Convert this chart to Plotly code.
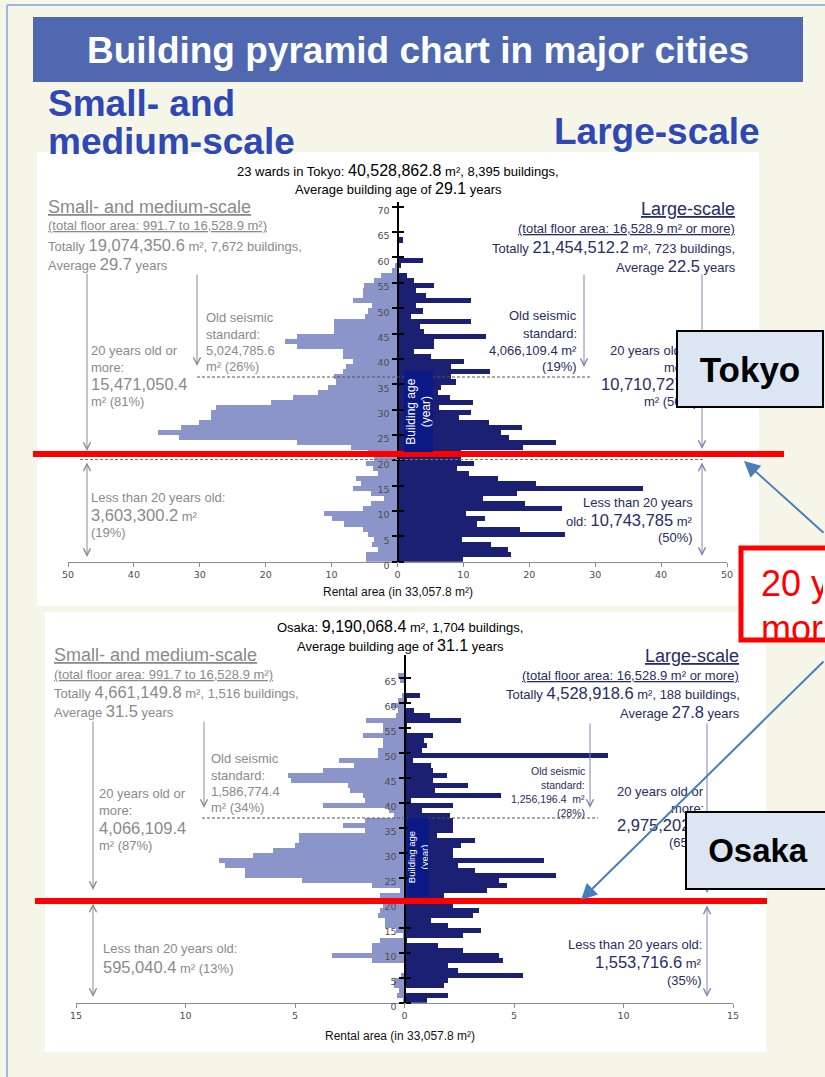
import plotly.graph_objects as go

W, H = 825, 1077

# Rental area by building age, in units of 33,057.8 m2 (list index = building age in years)
tokyo_small = [4.8, 4.8, 3.0, 3.8, 3.5, 4.5, 5.3, 8.1, 9.9, 11.2,
               5.3, 4.0, 2.0, 4.0, 6.8, 5.6, 6.3, 3.0, 3.7, 4.8,
               3.5, 4.5, 7.1, 15.2, 33.1, 36.4, 32.9, 30.1, 28.3, 28.3,
               27.6, 19.2, 15.9, 12.1, 10.6, 9.3, 9.6, 8.3, 7.8, 6.8,
               8.3, 8.3, 15.2, 17.0, 15.2, 9.6, 9.6, 9.6, 5.0, 4.5,
               3.8, 6.8, 5.3, 5.3, 5.1, 3.6, 2.5, 0.9, 0.4, 0.0,
               0.0, 0.0, 0.0, 0.0]
tokyo_large = [10.0, 17.2, 16.8, 14.2, 9.8, 25.4, 18.6, 12.0, 13.3, 10.4,
               25.0, 19.3, 12.9, 18.1, 37.3, 21.0, 15.2, 10.9, 9.1, 11.6,
               9.6, 9.6, 19.1, 24.0, 16.9, 15.7, 18.9, 13.9, 9.4, 11.1,
               6.3, 11.4, 8.0, 6.1, 6.6, 8.9, 8.1, 14.0, 8.1, 10.1,
               5.1, 2.5, 5.6, 5.6, 13.5, 4.0, 3.4, 11.1, 2.0, 3.9,
               2.8, 11.1, 4.3, 2.8, 5.5, 2.5, 1.5, 0.3, 0.5, 3.9,
               0.0, 0.0, 0.0, 0.9]
osaka_small = [0.05, 0.35, 0.25, 0.5, 0.5, 0.15, 0.0, 0.0, 1.5, 3.3,
               1.5, 1.5, 1.1, 0.05, 0.4, 0.9, 0.9, 1.2, 1.1, 1.0,
               1.0, 1.1, 0.2, 1.5, 4.7, 7.3, 7.3, 8.2, 8.45, 6.9,
               6.0, 5.0, 4.8, 4.8, 1.8, 2.8, 1.8, 0.5, 0.7, 3.7,
               1.8, 1.9, 2.5, 2.6, 5.2, 5.3, 3.7, 2.3, 3.0, 1.2,
               1.2, 1.0, 1.0, 1.9, 1.0, 1.0, 1.75, 0.4, 0.3, 0.6,
               0.3, 0.1, 0.0, 0.0, 0.2, 0.3]
osaka_large = [1.05, 2.0, 0.05, 1.8, 2.0, 5.4, 2.45, 2.0, 4.5, 4.3,
               2.65, 1.55, 0.1, 2.65, 3.5, 2.0, 1.2, 3.15, 3.4, 2.2,
               2.2, 1.8, 3.75, 4.7, 4.3, 6.9, 3.2, 2.45, 6.35, 2.2,
               2.2, 2.6, 3.2, 1.5, 2.2, 2.2, 2.2, 2.1, 0.8, 2.2,
               0.3, 4.4, 1.4, 2.9, 1.3, 1.95, 1.3, 1.2, 0.4, 9.3,
               0.8, 1.05, 0.9, 1.3, 0.1, 0.1, 2.6, 1.15, 0.45, 0.0,
               0.1, 0.7]

tokyo_xticks = [-50, -40, -30, -20, -10, 0, 10, 20, 30, 40, 50]
tokyo_xlabels = ["50", "40", "30", "20", "10", "0", "10", "20", "30", "40", "50"]
osaka_xticks = [-15, -10, -5, 0, 5, 10, 15]
osaka_xlabels = ["15", "10", "5", "0", "5", "10", "15"]
tokyo_yticks = list(range(0, 71, 5))
osaka_yticks = list(range(0, 66, 5))

LIGHT = "#8c95c9"
DARK = "#1c2072"
GRAY = "#8a8a8a"
NAVY = "#272c63"
HEAD_BLUE = "#2e48b4"
ARROW_GRAY = "#8c8c8c"
ARROW_LAV = "#8383b3"
SANS = "Liberation Sans, Arial, sans-serif"
TICKFONT = dict(family="DejaVu Sans, Verdana, sans-serif", size=9.5, color="#4d4d4d")


def mids(vals):
    return [a + 0.5 for a in range(len(vals))]


fig = go.Figure()
bar_style = dict(orientation="h", width=1, showlegend=False, hoverinfo="skip")
fig.add_trace(go.Bar(x=[-v for v in tokyo_small], y=mids(tokyo_small), xaxis="x", yaxis="y",
                     marker=dict(color=LIGHT, line=dict(width=0)), **bar_style))
fig.add_trace(go.Bar(x=tokyo_large, y=mids(tokyo_large), xaxis="x", yaxis="y2",
                     marker=dict(color=DARK, line=dict(width=0)), **bar_style))
fig.add_trace(go.Bar(x=[-v for v in osaka_small], y=mids(osaka_small), xaxis="x2", yaxis="y3",
                     marker=dict(color=LIGHT, line=dict(width=0)), **bar_style))
fig.add_trace(go.Bar(x=osaka_large, y=mids(osaka_large), xaxis="x2", yaxis="y4",
                     marker=dict(color=DARK, line=dict(width=0)), **bar_style))


def xax(x0, x1, rng, tv, tt, anchor):
    return dict(domain=[x0 / W, x1 / W], range=rng, anchor=anchor, tickvals=tv, ticktext=tt,
                showline=True, linecolor="#8c8c8c", linewidth=1.2, ticks="outside", ticklen=4,
                tickcolor="#8c8c8c", tickwidth=1.2, showgrid=False, zeroline=False,
                tickfont=TICKFONT, fixedrange=True, automargin=False)


def yax(ytop, ybot, rng, tv, xpos, side, overlay=None):
    d = dict(range=rng, anchor="free", position=xpos / W, side=side, tickvals=tv,
             ticks="outside", ticklen=5, tickwidth=1.5, tickcolor="black",
             showgrid=False, zeroline=False, tickfont=TICKFONT, fixedrange=True,
             automargin=False)
    if overlay:
        d.update(overlaying=overlay, showticklabels=False, showline=False)
    else:
        d.update(domain=[1 - ybot / H, 1 - ytop / H], showline=True, linecolor="black",
                 linewidth=2, ticklabelshift=4)
    return d


shapes = []
notes = []


def rect(x0, y0, x1, y1, fill, line_color=None, line_width=0, layer="below"):
    shapes.append(dict(type="rect", xref="paper", yref="paper", x0=x0 / W, x1=x1 / W,
                       y0=1 - y1 / H, y1=1 - y0 / H, fillcolor=fill,
                       line=dict(color=line_color or fill, width=line_width), layer=layer))


def seg(x0, y0, x1, y1, color, width=1, dash="solid", layer="above"):
    shapes.append(dict(type="line", xref="paper", yref="paper", x0=x0 / W, x1=x1 / W,
                       y0=1 - y0 / H, y1=1 - y1 / H,
                       line=dict(color=color, width=width, dash=dash), layer=layer))


def text(x, y, s, size=13, color=GRAY, anchor="left", **extra):
    d = dict(xref="paper", yref="paper", x=x / W, y=1 - y / H, text=s, showarrow=False,
             xanchor=anchor, yanchor="middle", font=dict(size=size, color=color, family=SANS))
    d.update(extra)
    notes.append(d)


def arrow(x0, y0, x1, y1, color, width=1, head=5, size=1.4, both=False):
    d = dict(xref="paper", yref="paper", x=x1 / W, y=1 - y1 / H, ax=x0 - x1, ay=y0 - y1,
             axref="pixel", ayref="pixel", text="", showarrow=True, arrowhead=head,
             arrowsize=size, arrowwidth=width, arrowcolor=color, standoff=0, startstandoff=0)
    if both:
        d.update(arrowside="end+start", startarrowhead=head, startarrowsize=size)
    notes.append(d)


def num(s, size=16.5):
    return f"<span style='font-size:{size}px'>{s}</span>"


# page frame, banner and chart panels
seg(7, 5, 7, H, "#9fb6e2", 2, layer="below")
seg(7, 5, W, 5, "#9fb6e2", 2, layer="below")
rect(33, 17, 803, 82, "#4f68b0")
rect(37, 152, 759, 606, "white")
rect(45, 612, 766, 1052, "white")

# reference lines
seg(197, 377, 590, 377, "#555555", 1, "3px,2px")
seg(80, 459.5, 705, 459.5, "#777777", 1, "3px,2px")
seg(202, 818, 598, 818, "#555555", 1, "3px,2px")
seg(98, 903.5, 705, 903.5, "#777777", 1, "3px,2px")
seg(33, 454, 784, 454, "#ff0000", 6)
seg(35, 901, 767, 901, "#ff0000", 6)
rect(741, 548, 830, 640, "white", "#ff0000", 5, layer="above")

# headings
text(418, 50, "<b>Building pyramid chart in major cities</b>", 37, "white", "center")
text(46, 104, "<b>Small- and</b>", 37, HEAD_BLUE)
text(46, 142, "<b>medium-scale</b>", 37, HEAD_BLUE)
text(552, 131, "<b>Large-scale</b>", 37, HEAD_BLUE)

# Tokyo
text(398, 170, f"23 wards in Tokyo: {num('40,528,862.8', 16)} m², 8,395 buildings,", 13, "black", "center")
text(398, 188, f"Average building age of {num('29.1', 16)} years", 13, "black", "center")
text(46, 207, "<u>Small- and medium-scale</u>", 18)
text(46, 226, "<u>(total floor area: 991.7 to 16,528.9 m²)</u>", 13)
text(46, 245, f"Totally {num('19,074,350.6')} m², 7,672 buildings,")
text(46, 264, f"Average {num('29.7')} years")
text(204, 317, "Old seismic")
text(204, 334, "standard:")
text(204, 350, "5,024,785.6")
text(204, 366, "m² (26%)")
text(89, 351, "20 years old or")
text(89, 367, "more:")
text(89, 384, num("15,471,050.4"))
text(89, 401, "m² (81%)")
text(89, 497, "Less than 20 years old:")
text(89, 515, f"{num('3,603,300.2')} m²")
text(89, 533, "(19%)")

text(737, 209, "<u>Large-scale</u>", 18, NAVY, "right")
text(737, 228, "<u>(total floor area: 16,528.9 m² or more)</u>", 13, NAVY, "right")
text(737, 247, f"Totally {num('21,454,512.2')} m², 723 buildings,", 13, NAVY, "right")
text(738, 266, f"Average {num('22.5')} years", 13, NAVY, "right")
text(579, 316, "Old seismic", 13, NAVY, "right")
text(579, 333, "standard:", 13, NAVY, "right")
text(579, 350, "4,066,109.4 m²", 13, NAVY, "right")
text(579, 366, "(19%)", 13, NAVY, "right")
text(699, 351, "20 years old or", 13, NAVY, "right")
text(699, 367, "more:", 13, NAVY, "right")
text(699, 384, num("10,710,727.2"), 13, NAVY, "right")
text(699, 401, "m² (50%)", 13, NAVY, "right")
text(695, 502, "Less than 20 years", 13, NAVY, "right")
text(695, 520, f"old: {num('10,743,785')} m²", 13, NAVY, "right")
text(695, 538, "(50%)", 13, NAVY, "right")
text(398, 592, "Rental area (in 33,057.8 m²)", 12, "#111111", "center")

# Osaka
text(400, 626, f"Osaka: {num('9,190,068.4', 16)} m², 1,704 buildings,", 13, "black", "center")
text(400, 645, f"Average building age of {num('31.1', 16)} years", 13, "black", "center")
text(52, 655, "<u>Small- and medium-scale</u>", 18)
text(52, 674, "<u>(total floor area: 991.7 to 16,528.9 m²)</u>", 13)
text(52, 692, f"Totally {num('4,661,149.8')} m², 1,516 buildings,")
text(52, 711, f"Average {num('31.5')} years")
text(209, 758, "Old seismic")
text(209, 775, "standard:")
text(209, 791, "1,586,774.4")
text(209, 807, "m² (34%)")
text(97, 793, "20 years old or")
text(97, 810, "more:")
text(97, 828, num("4,066,109.4"))
text(97, 845, "m² (87%)")
text(101, 948, "Less than 20 years old:")
text(101, 967, f"{num('595,040.4')} m² (13%)")

text(741, 656, "<u>Large-scale</u>", 18, NAVY, "right")
text(741, 675, "<u>(total floor area: 16,528.9 m² or more)</u>", 13, NAVY, "right")
text(742, 693, f"Totally {num('4,528,918.6')} m², 188 buildings,", 13, NAVY, "right")
text(742, 712, f"Average {num('27.8')} years", 13, NAVY, "right")
text(587, 771, "Old seismic", 10.5, NAVY, "right")
text(587, 785, "standard:", 10.5, NAVY, "right")
text(587, 799, "1,256,196.4  m²", 10.5, NAVY, "right")
text(587, 813, "(28%)", 10.5, NAVY, "right")
text(706, 791, "20 years old or", 13, NAVY, "right")
text(706, 808, "more:", 13, NAVY, "right")
text(706, 825, num("2,975,202.0"), 13, NAVY, "right")
text(706, 842, "(65%)", 13, NAVY, "right")
text(704, 944, "Less than 20 years old:", 13, NAVY, "right")
text(704, 962, f"{num('1,553,716.6')} m²", 13, NAVY, "right")
text(704, 980, "(35%)", 13, NAVY, "right")
text(400, 1036, "Rental area (in 33,057.8 m²)", 12, "#111111", "center")

# bracket arrows
arrow(87, 272, 87, 451, ARROW_GRAY)
arrow(87, 461, 87, 557, ARROW_GRAY, both=True)
arrow(197, 273, 197, 366, ARROW_GRAY)
arrow(702, 273, 702, 449, ARROW_LAV)
arrow(702, 461, 702, 556, ARROW_LAV, both=True)
arrow(584, 273, 584, 367, ARROW_LAV)
arrow(93, 720, 93, 890, ARROW_GRAY)
arrow(93, 902, 93, 997, ARROW_GRAY, both=True)
arrow(204, 720, 204, 808, ARROW_GRAY)
arrow(707, 722, 707, 893, ARROW_LAV)
arrow(707, 904, 707, 997, ARROW_LAV, both=True)
arrow(590, 722, 590, 808, ARROW_LAV)

# building age axis labels
notes.append(dict(xref="paper", yref="paper", x=418 / W, y=1 - 411.5 / H, text="Building age<br>(year)",
                  textangle=-90, showarrow=False, xanchor="center", yanchor="middle",
                  font=dict(size=12, color="white", family=SANS), bgcolor="#0b1987",
                  width=80, height=28, borderpad=0))
notes.append(dict(xref="paper", yref="paper", x=417.5 / W, y=1 - 857.5 / H, text="Building age<br>(year)",
                  textangle=-90, showarrow=False, xanchor="center", yanchor="middle",
                  font=dict(size=9.5, color="white", family=SANS), bgcolor="#0b1987",
                  width=78, height=20, borderpad=0))

# callout (the box runs off the right edge, so its text is clipped to the box)
text(760, 583, "20 years old or", 36, "#ff0000", width=62, height=44, align="left", borderpad=0)
text(760, 628, "more", 36, "#ff0000", width=62, height=44, align="left", borderpad=0)
arrow(826, 534, 744, 461, "#4a7ebb", width=2, head=2, size=1.6)
arrow(830, 660, 581, 900, "#4a7ebb", width=2, head=2, size=1.6)

# city tags
notes.append(dict(xref="paper", yref="paper", x=750 / W, y=1 - 368.5 / H, text="<b>Tokyo</b>",
                  showarrow=False, xanchor="center", yanchor="middle", width=144, height=74,
                  font=dict(size=35, color="black", family=SANS), bgcolor="#dce6f2",
                  bordercolor="black", borderwidth=2, borderpad=0))
notes.append(dict(xref="paper", yref="paper", x=758 / W, y=1 - 850 / H, text="<b>Osaka</b>",
                  showarrow=False, xanchor="center", yanchor="middle", width=142, height=75,
                  font=dict(size=33, color="black", family=SANS), bgcolor="#dce6f2",
                  bordercolor="black", borderwidth=2, borderpad=0))

fig.update_layout(
    width=W, height=H, autosize=False,
    margin=dict(l=0, r=0, t=0, b=0, pad=0, autoexpand=False),
    paper_bgcolor="#f6f6e8", plot_bgcolor="rgba(0,0,0,0)",
    barmode="overlay", bargap=0, showlegend=False,
    font=dict(family=SANS),
    xaxis=xax(68, 727, [-50, 50], tokyo_xticks, tokyo_xlabels, "y"),
    yaxis=yax(201.7, 561.7, [0, 71], tokyo_yticks, 397.5, "left"),
    yaxis2=yax(201.7, 561.7, [0, 71], tokyo_yticks, 397.5, "right", overlay="y"),
    xaxis2=xax(76, 733, [-15, 15], osaka_xticks, osaka_xlabels, "y3"),
    yaxis3=yax(655.2, 1002.7, [0, 69.5], osaka_yticks, 404.5, "left"),
    yaxis4=yax(655.2, 1002.7, [0, 69.5], osaka_yticks, 404.5, "right", overlay="y3"),
    shapes=shapes,
    annotations=notes,
)

fig.write_html("out.html")
